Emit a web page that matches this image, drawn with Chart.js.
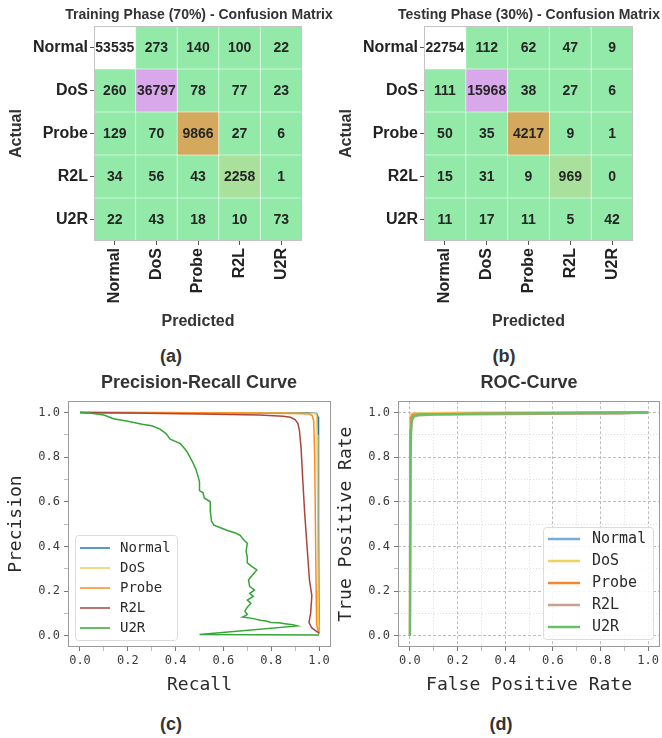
<!doctype html>
<html>
<head>
<meta charset="utf-8">
<title>Confusion matrices, PR and ROC curves</title>
<script src="https://cdn.jsdelivr.net/npm/chart.js"></script>
<style>
  body { margin: 0; background: #fff; }
  #fig { position: relative; width: 662px; height: 738px; overflow: hidden;
         font-family: "Liberation Sans", Arial, sans-serif; color: #333; }
  canvas { position: absolute; }
  .lbl { position: absolute; transform: translate(-50%, -50%); white-space: nowrap; font-weight: bold; }
</style>
</head>
<body>
<div id="fig">
  <canvas id="cmTrain" width="330" height="340" style="left:0;top:0"></canvas>
  <canvas id="cmTest" width="332" height="340" style="left:330px;top:0"></canvas>
  <canvas id="prCurve" width="340" height="310" style="left:0;top:390px"></canvas>
  <canvas id="rocCurve" width="332" height="310" style="left:330px;top:390px"></canvas>

  <div class="lbl" style="left:199px;top:14px;font-size:14px">Training Phase (70%) - Confusion Matrix</div>
  <div class="lbl" style="left:529px;top:14px;font-size:14px">Testing Phase (30%) - Confusion Matrix</div>
  <div class="lbl" style="left:171px;top:356px;font-size:18px">(a)</div>
  <div class="lbl" style="left:504px;top:356px;font-size:18px">(b)</div>
  <div class="lbl" style="left:199px;top:382px;font-size:18px">Precision-Recall Curve</div>
  <div class="lbl" style="left:529px;top:382px;font-size:18px">ROC-Curve</div>
  <div class="lbl" style="left:171px;top:724px;font-size:18px">(c)</div>
  <div class="lbl" style="left:501px;top:724px;font-size:18px">(d)</div>
</div>

<script>
// classes (rows = actual, columns = predicted)
const classes = ['Normal', 'DoS', 'Probe', 'R2L', 'U2R'];

const trainMatrix = [
  [53535, 273, 140, 100, 22],
  [260, 36797, 78, 77, 23],
  [129, 70, 9866, 27, 6],
  [34, 56, 43, 2258, 1],
  [22, 43, 18, 10, 73]
];
const testMatrix = [
  [22754, 112, 62, 47, 9],
  [111, 15968, 38, 27, 6],
  [50, 35, 4217, 9, 1],
  [15, 31, 9, 969, 0],
  [11, 17, 11, 5, 42]
];

// precision-recall curves, [recall, precision]
const prNormal = [[0, 1], [0.5, 0.999], [0.95, 0.998], [0.99, 0.995], [0.996, 0.98], [0.998, 0.5], [1.0, 0.01]];
const prDoS = [[0, 1], [0.5, 0.998], [0.9, 0.997], [0.985, 0.995], [0.99, 0.99], [0.992, 0.9], [0.995, 0.5], [0.997, 0.1], [1.0, 0.01]];
const prProbe = [[0, 1], [0.5, 0.998], [0.9, 0.995], [0.96, 0.993], [0.972, 0.985], [0.978, 0.96], [0.982, 0.8], [0.985, 0.5], [0.988, 0.2], [0.99, 0.05], [1.0, 0.01]];
const prR2L = [[0, 1], [0.2, 0.997], [0.5, 0.993], [0.75, 0.988], [0.85, 0.983], [0.88, 0.978], [0.90, 0.968], [0.912, 0.95],
  [0.918, 0.92], [0.925, 0.84], [0.932, 0.7], [0.94, 0.55], [0.95, 0.40], [0.96, 0.25], [0.97, 0.18], [0.965, 0.10],
  [0.958, 0.06], [0.97, 0.035], [0.99, 0.02], [1.0, 0.012]];
const prU2R = [[0, 1], [0.04, 0.997], [0.10, 0.988], [0.14, 0.972], [0.20, 0.960], [0.26, 0.947], [0.30, 0.940], [0.335, 0.925],
  [0.36, 0.905], [0.377, 0.880], [0.42, 0.860], [0.44, 0.835], [0.45, 0.820], [0.47, 0.780], [0.485, 0.745], [0.49, 0.727],
  [0.50, 0.690], [0.50, 0.650], [0.515, 0.640], [0.52, 0.617], [0.545, 0.600], [0.545, 0.560], [0.55, 0.515], [0.56, 0.495],
  [0.585, 0.485], [0.62, 0.470], [0.65, 0.460], [0.67, 0.450], [0.685, 0.430], [0.70, 0.414], [0.695, 0.38], [0.70, 0.35],
  [0.70, 0.326], [0.72, 0.31], [0.74, 0.295], [0.72, 0.27], [0.705, 0.25], [0.71, 0.22], [0.73, 0.205], [0.71, 0.19],
  [0.725, 0.176], [0.70, 0.16], [0.715, 0.145], [0.70, 0.128], [0.69, 0.11], [0.70, 0.095], [0.68, 0.084], [0.72, 0.078],
  [0.76, 0.068], [0.78, 0.066], [0.80, 0.06], [0.83, 0.058], [0.865, 0.053], [0.89, 0.05], [0.91, 0.044], [0.50, 0.006], [1.0, 0.004]];

// ROC curves, [false positive rate, true positive rate]
const rocNormal = [[0, 0], [0.0005, 0.93], [0.002, 0.975], [0.006, 0.99], [0.03, 0.996], [0.3, 0.998], [1, 1]];
const rocDoS = [[0, 0], [0.0003, 0.96], [0.002, 0.985], [0.01, 0.995], [0.1, 0.998], [1, 1]];
const rocProbe = [[0, 0], [0.001, 0.92], [0.004, 0.975], [0.012, 0.99], [0.06, 0.993], [0.5, 0.997], [1, 1]];
const rocR2L = [[0, 0], [0.002, 0.88], [0.008, 0.965], [0.02, 0.985], [0.1, 0.99], [0.6, 0.993], [0.89, 0.995], [1, 1]];
const rocU2R = [[0, 0], [0.003, 0.8], [0.006, 0.95], [0.012, 0.98], [0.04, 0.99], [0.3, 0.995], [1, 1]];

const SANS = '"Liberation Sans", Arial, sans-serif';
const MONO = '"DejaVu Sans Mono", monospace';
Chart.defaults.font.family = SANS;

// colour of a cell from its share of the largest cell
function cellColor(f) {
  if (f > 0.9) return '#ffffff';
  if (f > 0.5) return '#d8a8ea';
  if (f > 0.1) return '#d5a95d';
  if (f > 0.02) return '#a9e19c';
  return '#93eaa8';
}

// draws the heatmap cells at the points placed by the category scales
const cellPlugin = {
  id: 'cells',
  beforeDatasetsDraw(chart) {
    const {ctx, chartArea: a, scales: {x, y}} = chart;
    const cells = chart.data.datasets[0].data;
    const pts = chart.getDatasetMeta(0).data;
    const w = x.width / classes.length, h = y.height / classes.length;
    const max = Math.max(...cells.map(c => c.v));
    ctx.save();
    pts.forEach((p, i) => {
      ctx.fillStyle = cellColor(cells[i].v / max);
      ctx.fillRect(p.x - w / 2, p.y - h / 2, w, h);
    });
    ctx.strokeStyle = 'rgba(255,255,255,0.55)';
    ctx.lineWidth = 1;
    for (let i = 1; i < classes.length; i++) {
      ctx.beginPath();
      ctx.moveTo(a.left + i * w, a.top); ctx.lineTo(a.left + i * w, a.bottom);
      ctx.moveTo(a.left, a.top + i * h); ctx.lineTo(a.right, a.top + i * h);
      ctx.stroke();
    }
    ctx.strokeStyle = '#c4c4c4';
    ctx.strokeRect(a.left + 0.5, a.top + 0.5, a.width - 1, a.height - 1);
    ctx.font = 'bold 14px ' + SANS;
    ctx.fillStyle = '#262626';
    ctx.textAlign = 'center';
    ctx.textBaseline = 'middle';
    pts.forEach((p, i) => ctx.fillText(String(cells[i].v), p.x, p.y + 1));
    ctx.restore();
  }
};

function matrixChart(id, matrix, padRight) {
  const cells = [];
  matrix.forEach((row, r) => row.forEach((v, c) => cells.push({x: classes[c], y: classes[r], v: v})));
  const labelFont = {family: SANS, size: 16, weight: 'bold'};
  return new Chart(document.getElementById(id), {
    type: 'scatter',
    data: {datasets: [{data: cells, pointRadius: 0}]},
    options: {
      responsive: false, animation: false, events: [],
      layout: {padding: {top: 26, right: padRight, left: 0, bottom: 0}},
      plugins: {legend: {display: false}, tooltip: {enabled: false}},
      scales: {
        x: {
          type: 'category', labels: classes, offset: true, position: 'bottom',
          grid: {drawOnChartArea: false, offset: false, tickLength: 4, tickColor: '#555'},
          border: {display: false},
          ticks: {minRotation: 90, maxRotation: 90, padding: 3, color: '#222', font: labelFont, autoSkip: false},
          title: {display: true, text: 'Predicted', color: '#333', font: labelFont, padding: {top: 0, bottom: 9}},
          afterFit: s => { s.height = 99; }
        },
        y: {
          type: 'category', labels: classes, offset: true, position: 'left',
          grid: {drawOnChartArea: false, offset: false, tickLength: 4, tickColor: '#555'},
          border: {display: false},
          ticks: {padding: 2, color: '#222', font: labelFont, autoSkip: false},
          title: {display: true, text: 'Actual', color: '#333', font: labelFont, padding: {top: 7, bottom: 0}},
          afterFit: s => { s.width = 94; }
        }
      }
    },
    plugins: [cellPlugin]
  });
}

// plot frame
const framePlugin = {
  id: 'frame',
  beforeDatasetsDraw(chart) {
    const {ctx, chartArea: a} = chart;
    ctx.save();
    ctx.strokeStyle = '#9a9a9a';
    ctx.lineWidth = 1;
    ctx.strokeRect(Math.round(a.left) + 0.5, Math.round(a.top) + 0.5, Math.round(a.width) - 1, Math.round(a.height) - 1);
    ctx.restore();
  }
};

// legend box inside the plot
const boxLegend = {
  id: 'boxLegend',
  afterDraw(chart, args, o) {
    const ctx = chart.ctx;
    ctx.save();
    ctx.beginPath();
    if (ctx.roundRect) ctx.roundRect(o.x + 0.5, o.y + 0.5, o.w, o.h, 3);
    else ctx.rect(o.x + 0.5, o.y + 0.5, o.w, o.h);
    ctx.fillStyle = 'rgba(255,255,255,0.85)';
    ctx.fill();
    ctx.strokeStyle = '#dcdcdc';
    ctx.lineWidth = 1;
    ctx.stroke();
    ctx.font = o.fontSize + 'px ' + MONO;
    ctx.textBaseline = 'middle';
    chart.data.datasets.forEach((ds, i) => {
      const yy = o.firstRow + i * o.rowH;
      ctx.strokeStyle = ds.borderColor;
      ctx.lineWidth = o.lineWidth;
      ctx.beginPath();
      ctx.moveTo(o.lineX1, yy);
      ctx.lineTo(o.lineX2, yy);
      ctx.stroke();
      ctx.fillStyle = '#2b2b2b';
      ctx.fillText(ds.label, o.textX, yy);
    });
    ctx.restore();
  }
};

const isMajor = c => c.tick && Math.round(c.tick.value * 10) % 2 === 0;

function curveChart(id, series, colors, lineWidth, xTitle, yTitle, withGrid, legend, padRight) {
  const datasets = series.map((pts, i) => ({
    label: classes[i],
    data: pts.map(p => ({x: p[0], y: p[1]})),
    borderColor: colors[i],
    borderWidth: lineWidth,
    pointRadius: 0,
    showLine: true,
    fill: false,
    order: series.length - i
  }));
  const axis = (title, isX) => ({
    type: 'linear', min: -0.0502, max: 1.0502, position: isX ? 'bottom' : 'left',
    border: {display: false, dash: c => isMajor(c) ? [3, 2] : [1, 2]},
    grid: {
      drawOnChartArea: withGrid, tickLength: 4, lineWidth: 0.8,
      color: c => isMajor(c) ? '#adadad' : '#d6d6d6',
      tickColor: c => isMajor(c) ? '#555' : '#aaa'
    },
    ticks: {
      stepSize: 0.1, includeBounds: false, autoSkip: false, maxRotation: 0,
      padding: isX ? 3 : 4, color: '#3a3a3a', font: {family: MONO, size: 12},
      callback: v => { const k = Math.round(v * 10); return k % 2 === 0 ? (k / 10).toFixed(1) : ''; }
    },
    title: {display: true, text: title, color: '#2b2b2b', font: {family: MONO, size: 18},
            padding: isX ? {top: 0, bottom: 4} : {top: 6, bottom: 0}},
    afterFit: s => { if (isX) s.height = 53; else s.width = 68; }
  });
  return new Chart(document.getElementById(id), {
    type: 'scatter',
    data: {datasets: datasets},
    options: {
      responsive: false, animation: false, events: [],
      layout: {padding: {top: 9, right: padRight, left: 0, bottom: 0}},
      plugins: {legend: {display: false}, tooltip: {enabled: false}, boxLegend: legend},
      scales: {x: axis(xTitle, true), y: axis(yTitle, false)}
    },
    plugins: [framePlugin, boxLegend]
  });
}

matrixChart('cmTrain', trainMatrix, 28);
matrixChart('cmTest', testMatrix, 29);

curveChart('prCurve', [prNormal, prDoS, prProbe, prR2L, prU2R],
  ['#1f77b4', '#f0cc5a', '#ff8a22', '#a9463c', '#35a535'], 1.5,
  'Recall', 'Precision', false,
  {x: 75, y: 145, w: 102, h: 105, firstRow: 158, rowH: 20, lineX1: 80, lineX2: 110, textX: 120, fontSize: 14, lineWidth: 1.5},
  9);

curveChart('rocCurve', [rocNormal, rocDoS, rocProbe, rocR2L, rocU2R],
  ['#76acd8', '#f2d163', '#f7862e', '#c9a08e', '#66c166'], 2.2,
  'False Positive Rate', 'True Positive Rate', true,
  {x: 213, y: 137, w: 110, h: 112, firstRow: 149, rowH: 22, lineX1: 218, lineX2: 250, textX: 262, fontSize: 15, lineWidth: 2.5},
  1);
</script>
</body>
</html>
